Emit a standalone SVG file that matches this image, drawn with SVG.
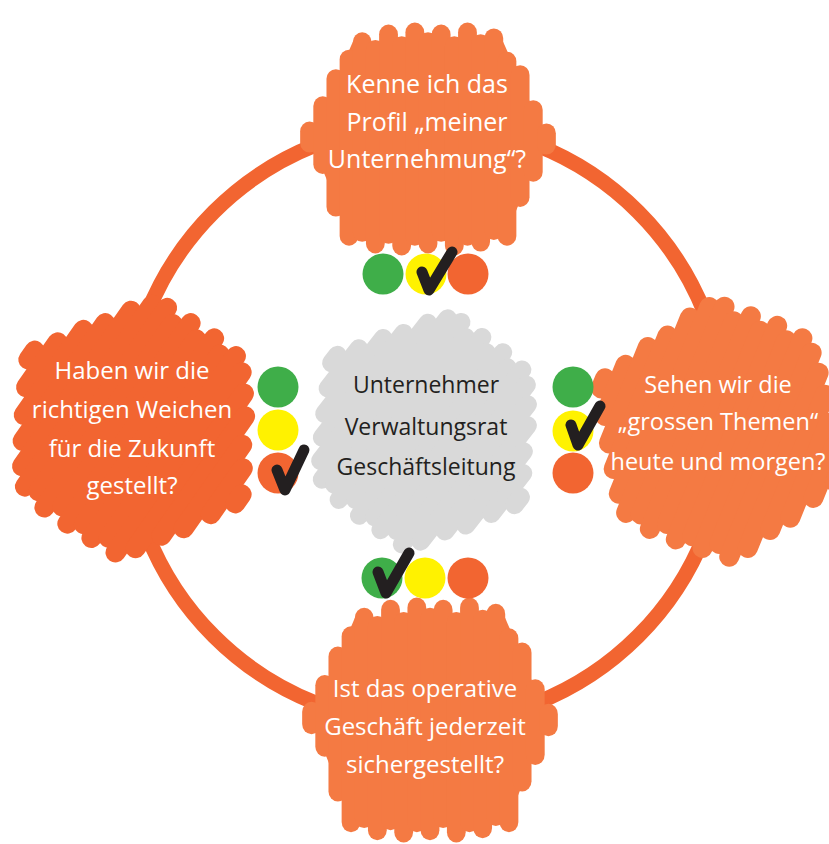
<svg xmlns="http://www.w3.org/2000/svg" xmlns:xlink="http://www.w3.org/1999/xlink" width="829" height="844" viewBox="0 0 829 844">
<style>
.wt{font-family:"Open Sans","Noto Sans",sans-serif;fill:#ffffff;text-anchor:middle}
.dk{font-family:"Open Sans","Noto Sans",sans-serif;fill:#231f20;text-anchor:middle}
.chk{fill:none;stroke:#231f20;stroke-width:11;stroke-linecap:round;stroke-linejoin:round}
.g{fill:#3fae49}.y{fill:#fff200}.o{fill:#f26531}
</style>
<defs>
<g id="blob1" stroke-width="20" stroke-linecap="round">
<polygon stroke="none" points="-126,0 -80,-100 80,-100 126,0 84,96 -84,96"/>
<line x1="-126" y1="-8" x2="-126" y2="4"/><line x1="-112" y1="-34" x2="-112" y2="26"/>
<line x1="-98" y1="-62" x2="-98" y2="70"/><line x1="-84" y1="-82" x2="-84" y2="100"/>
<line x1="-70" y1="-100" x2="-70" y2="96"/><line x1="-56" y1="-92" x2="-56" y2="108"/>
<line x1="-42" y1="-108" x2="-42" y2="98"/><line x1="-28" y1="-96" x2="-28" y2="110"/>
<line x1="-14" y1="-110" x2="-14" y2="100"/><line x1="0" y1="-100" x2="0" y2="108"/>
<line x1="14" y1="-108" x2="14" y2="96"/><line x1="28" y1="-96" x2="28" y2="110"/>
<line x1="42" y1="-110" x2="42" y2="100"/><line x1="56" y1="-98" x2="56" y2="106"/>
<line x1="70" y1="-104" x2="70" y2="94"/><line x1="84" y1="-80" x2="84" y2="100"/>
<line x1="98" y1="-66" x2="98" y2="60"/><line x1="112" y1="-30" x2="112" y2="34"/>
<line x1="126" y1="-6" x2="126" y2="6"/>
</g>
<g id="blob2" stroke-width="20" stroke-linecap="round">
<polygon stroke="none" points="-126,0 -55,-108 55,-108 126,0 60,108 -60,108"/>
<line x1="-126" y1="-5" x2="-126" y2="6"/><line x1="-112" y1="-25" x2="-112" y2="30"/>
<line x1="-98" y1="-50" x2="-98" y2="54"/><line x1="-84" y1="-68" x2="-84" y2="76"/>
<line x1="-70" y1="-93" x2="-70" y2="97"/><line x1="-56" y1="-110" x2="-56" y2="112"/>
<line x1="-42" y1="-116" x2="-42" y2="108"/><line x1="-28" y1="-106" x2="-28" y2="118"/>
<line x1="-14" y1="-117" x2="-14" y2="107"/><line x1="0" y1="-107" x2="0" y2="118"/>
<line x1="14" y1="-118" x2="14" y2="109"/><line x1="28" y1="-108" x2="28" y2="116"/>
<line x1="42" y1="-116" x2="42" y2="106"/><line x1="56" y1="-106" x2="56" y2="114"/>
<line x1="70" y1="-90" x2="70" y2="99"/><line x1="84" y1="-72" x2="84" y2="74"/>
<line x1="98" y1="-47" x2="98" y2="55"/><line x1="112" y1="-28" x2="112" y2="28"/>
<line x1="126" y1="-6" x2="126" y2="5"/>
</g>
</defs>
<rect width="829" height="844" fill="#ffffff"/>
<g id="connectors">
<circle cx="426" cy="424" r="300" fill="none" stroke="#f26531" stroke-width="15"/>
</g>
<g id="node-center">
<use href="#blob2" xlink:href="#blob2" fill="#d9d9d9" stroke="#d9d9d9" transform="translate(426,430) rotate(38) scale(0.92)"/>
<text class="dk" font-size="23" x="426" y="393">Unternehmer</text>
<text class="dk" font-size="23" x="426" y="435">Verwaltungsrat</text>
<text class="dk" font-size="23" x="426" y="475">Geschäftsleitung</text>
</g>
<g id="node-top">
<use href="#blob1" xlink:href="#blob1" fill="#f47a43" stroke="#f47a43" transform="translate(428,139) scale(0.94,0.97)"/>
<text class="wt" font-size="25" x="427" y="93">Kenne ich das</text>
<text class="wt" font-size="25" x="427" y="131">Profil „meiner</text>
<text class="wt" font-size="25" x="427" y="168">Unternehmung“?</text>
</g>
<g id="node-bottom">
<use href="#blob1" xlink:href="#blob1" fill="#f47a43" stroke="#f47a43" transform="translate(430,720) scale(0.94,1.02)"/>
<text class="wt" font-size="24" x="425" y="697">Ist das operative</text>
<text class="wt" font-size="24" x="425" y="735">Geschäft jederzeit</text>
<text class="wt" font-size="24" x="425" y="773">sichergestellt?</text>
</g>
<g id="node-left">
<use href="#blob2" xlink:href="#blob2" fill="#f26531" stroke="#f26531" transform="translate(135,427) rotate(35)"/>
<text class="wt" font-size="24" x="132" y="379">Haben wir die</text>
<text class="wt" font-size="24" x="132" y="418">richtigen Weichen</text>
<text class="wt" font-size="24" x="132" y="457">für die Zukunft</text>
<text class="wt" font-size="24" x="132" y="494">gestellt?</text>
</g>
<g id="node-right">
<use href="#blob2" xlink:href="#blob2" fill="#f47a43" stroke="#f47a43" transform="translate(720,430) rotate(22)"/>
<text class="wt" font-size="23.5" x="718" y="393">Sehen wir die</text>
<text class="wt" font-size="23.5" x="718" y="430">„grossen Themen“</text>
<text class="wt" font-size="23.5" x="718" y="470">heute und morgen?</text>
</g>
<g id="lights-top">
<circle class="g" cx="383" cy="274" r="20.5"/><circle class="y" cx="426" cy="274" r="20.5"/><circle class="o" cx="468" cy="274" r="20.5"/>
<path class="chk" d="M422,272 L429,290 L452,252"/>
</g>
<g id="lights-bottom">
<circle class="g" cx="382" cy="578" r="20.5"/><circle class="y" cx="425" cy="578" r="20.5"/><circle class="o" cx="468" cy="578" r="20.5"/>
<path class="chk" d="M378,572 L386,593 L409,553"/>
</g>
<g id="lights-left">
<circle class="g" cx="278" cy="387" r="20.5"/><circle class="y" cx="278" cy="430" r="20.5"/><circle class="o" cx="278" cy="473" r="20.5"/>
<path class="chk" d="M277,470 L285,490 L304,450"/>
</g>
<g id="lights-right">
<circle class="g" cx="573" cy="387" r="20.5"/><circle class="y" cx="573" cy="431" r="20.5"/><circle class="o" cx="573" cy="473" r="20.5"/>
<path class="chk" d="M571,425 L578,445 L600,406"/>
</g>
</svg>
